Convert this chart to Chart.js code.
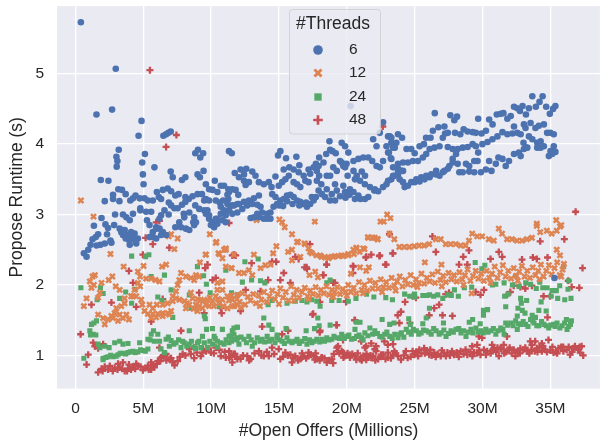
<!DOCTYPE html>
<html><head><meta charset="utf-8">
<style>html,body{margin:0;padding:0;background:#fff}canvas{display:block}</style>
<script src="https://cdn.jsdelivr.net/npm/chart.js@4/dist/chart.umd.min.js"></script>
</head><body>
<canvas id="c" width="606" height="444"></canvas>
<script>
const xTickValues=[0,5,10,15,20,25,30,35];
const yTickValues=[1,2,3,4,5];
const xTitle="#Open Offers (Millions)";
const yTitle="Propose Runtime (s)";
const legendTitle="#Threads";
const threads6=[[0.4,5.73],[2.97,5.07],[1.55,4.42],[2.7,4.49],[4.87,4.33],[4.65,4.12],[6.48,4.12],[6.68,4.14],[6.85,4.16],[7.02,4.18],[3.19,3.92],[3.02,3.82],[3.09,3.76],[3.04,3.68],
[1.87,3.49],[2.43,3.48],[2.16,3.19],[2.77,3.28],[2.77,3.22],[3.24,3.19],[3.16,3.36],[3.43,3.35],[3.7,3.29],[2.92,3.0],[1.92,2.95],[1.36,2.84],[2.21,2.86],[2.4,2.81],[2.85,2.85],[2.33,2.72],[1.67,2.72],[1.5,2.68],[1.26,2.65],[1.11,2.57],[1.55,2.56],[1.84,2.57],[2.16,2.59],[2.58,2.63],[2.65,2.6],[0.94,2.5],[0.62,2.45],[0.82,2.4],
[3.26,2.8],[3.38,2.75],[3.5,2.71],[3.7,2.66],[3.94,2.64],[4.24,2.68],[4.36,2.73],[4.6,2.66],[4.1,2.75],[3.87,2.71],[3.63,2.78],[4.48,2.59],[4.0,2.57],[4.36,2.64],[3.5,3.0],[3.75,2.96],[4.0,2.92],[4.24,3.01],[4.78,3.09],[4.78,3.06],[4.43,3.27],[4.04,3.2],[4.24,3.23],[4.73,3.23],[5.09,3.23],[5.34,3.2],[5.7,3.2],[6.0,3.32],[6.14,3.25],[6.31,3.22],
[5.12,3.86],[4.92,3.74],[5.82,3.67],[4.97,3.57],[5.02,3.43],[5.21,3.04],[5.58,3.04],[5.27,2.92],[5.46,2.85],[5.7,2.75],[5.95,2.82],[6.19,2.94],[6.56,3.06],[6.31,2.99],[6.87,3.0],[5.95,2.8],[6.2,2.8],[6.44,2.75],[6.68,2.71],[6.31,2.71],[5.95,2.66],[5.7,2.68],[5.46,2.68],
[6.44,3.35],[6.8,3.37],[7.05,3.33],[7.36,3.27],[7.6,3.29],[7.02,3.61],[7.17,3.53],[6.88,3.17],[7.05,3.13],[7.29,3.09],[7.53,3.09],[7.85,3.14],[8.1,3.18],[8.1,3.25],[8.35,3.22],[8.63,3.26],[7.85,3.49],[8.1,3.53],[7.98,3.01],[8.02,2.96],[8.39,3.03],[8.75,2.96],[8.68,2.89],[7.65,2.89],[7.36,2.82],[7.78,2.82],[8.14,2.8],[8.39,2.78],[8.75,2.85],[8.88,2.89],
[8.83,3.87],[9.03,3.92],[9.2,3.81],[9.41,3.87],[9.0,3.57],[9.17,3.53],[9.44,3.62],[8.83,3.13],[9.12,3.08],[9.49,3.06],[9.73,3.06],[9.61,3.01],[9.85,2.94],[10.1,2.89],[10.34,2.94],[10.22,2.82],[9.98,2.85],[9.0,3.29],[9.32,3.29],[9.61,3.22],[9.85,3.2],[9.49,3.2],[9.61,3.43],[9.85,3.36],[10.1,3.35],[10.27,3.48],[10.71,3.41],[10.95,3.41],[10.46,3.32],[11.27,3.36],[11.56,3.36],[11.8,3.35],[11.2,3.28],[11.27,3.22],[11.74,3.59],[10.34,3.2],[10.63,3.17],[10.88,3.2],[11.2,3.15],[11.56,3.13],[11.94,3.15],[10.71,3.11],[10.95,3.06],[11.31,3.06],[11.56,3.01],[11.07,2.99],[10.71,3.01],[10.46,2.94],[10.83,2.92],[9.85,2.99],[10.46,2.87],[11.07,2.89],
[11.32,3.9],[11.52,3.87],[12.17,3.64],[12.42,3.57],[12.59,3.65],[13.03,3.61],[13.27,3.55],[12.05,3.53],[12.42,3.48],[12.78,3.46],[12.54,3.42],[12.0,3.28],[11.32,3.32],[13.52,3.46],[13.88,3.43],[14.25,3.46],[14.45,3.39],[14.74,3.54],[14.93,3.84],[15.1,3.9],[15.52,3.8],[16.28,3.82],[16.5,3.7],[15.35,3.64],[15.76,3.67],[16.08,3.64],[16.45,3.6],[15.72,3.55],[15.47,3.5],[15.23,3.46],[14.98,3.41],[16.08,3.46],[16.33,3.43],[16.57,3.39],[16.94,3.48],[17.18,3.46],[16.82,3.55],[17.18,3.64],[17.55,3.67],[17.72,3.72],[17.92,3.69],[17.3,3.58],[17.79,3.62],[17.96,3.55],[17.79,3.48],[18.12,3.43],[17.96,3.81],[18.28,3.74],[18.48,3.86],[18.77,3.92],[18.94,3.9],[19.18,3.87],[18.72,4.04],[19.62,4.02],[19.87,3.97],[20.11,3.88],[19.0,3.67],[19.26,3.62],[18.52,3.55],[18.77,3.55],[19.13,3.43],[20.06,3.55],
[19.5,3.76],[19.74,3.69],[19.98,3.72],[19.62,3.74],[19.87,3.67],[20.49,3.76],[20.85,3.79],[21.21,3.81],[21.58,3.81],[21.87,3.76],[22.19,3.69],[22.43,3.67],[22.67,3.76],[20.49,3.62],[20.73,3.55],[21.1,3.61],[21.34,3.55],[20.6,3.5],[20.97,3.48],[21.33,3.43],[21.7,3.39],[22.02,3.34],[22.19,3.97],[21.94,4.07],[23.1,3.88],[23.28,3.79],[23.28,4.02],[23.53,3.95],[22.92,3.97],[23.17,4.11],[22.43,4.16],[20.28,4.54],[22.67,4.31],
[11.32,3.06],[11.68,3.13],[12.05,3.15],[12.42,3.18],[12.78,3.2],[13.15,3.23],[13.52,3.27],[11.93,3.03],[12.3,3.08],[12.66,3.13],[13.03,3.15],[13.4,3.14],[13.64,3.11],[12.91,2.95],[13.15,2.96],[13.52,2.96],[13.88,2.94],[14.13,2.94],[14.37,2.94],[14.13,3.01],[14.37,3.03],[13.76,3.03],[13.4,3.01],[14.6,3.11],[14.86,3.15],[15.1,3.2],[15.35,3.22],[15.59,3.27],[15.84,3.28],[16.08,3.25],[16.33,3.2],[16.57,3.18],[16.82,3.15],[17.06,3.11],[17.3,3.15],[17.55,3.2],[17.42,3.25],[17.72,3.25],[17.92,3.34],[18.16,3.29],[18.52,3.36],[18.77,3.2],[18.4,3.25],[19.13,3.2],[18.89,3.29],[19.26,3.34],[19.74,3.41],[19.87,3.32],[20.23,3.36],[20.49,3.32],[20.85,3.27],[21.33,3.22],[21.58,3.25],[22.06,3.36],[22.31,3.33],[22.67,3.39],[22.92,3.43],[23.28,3.5],[23.53,3.55],[23.78,3.65],[14.5,3.29],[14.74,3.25],[15.0,3.13],[15.3,3.12],[15.6,3.19],[16.0,3.15],[16.5,3.13],[17.0,3.17],[19.5,3.26],[19.9,3.24],[20.2,3.28],[20.6,3.22],[21.0,3.22],
[23.04,4.11],[23.28,4.09],[23.77,4.14],[24.07,4.09],[23.65,4.02],[23.41,3.95],[23.04,3.88],[23.24,3.8],[24.4,3.93],[24.75,3.93],[25.0,3.87],[25.36,3.97],[25.68,4.0],[25.84,4.09],[26.17,4.09],[26.34,4.19],[26.75,4.24],[27.19,4.25],[26.48,4.44],[27.07,4.09],[27.24,4.15],[27.44,4.16],[27.63,4.41],[28.12,4.39],[27.92,4.34],[27.97,4.16],[28.36,4.14],[28.61,4.21],[28.9,4.18],[29.27,4.17],[29.51,4.16],[29.68,4.36],[29.93,4.15],[30.25,4.19],[30.49,4.35],[30.74,4.28],[31.05,4.42],[31.34,4.43],[31.54,4.44],[31.83,4.36],[32.08,4.4],[32.32,4.53],[32.56,4.51],[32.76,4.47],[32.95,4.54],[33.2,4.42],[33.42,4.51],[33.93,4.53],[33.67,4.68],[34.43,4.68],[34.2,4.6],[34.69,4.53],[34.96,4.43],[35.2,4.5],[35.37,4.54],
[24.14,3.74],[23.77,3.72],[23.41,3.67],[23.77,3.62],[24.14,3.62],[24.5,3.74],[24.87,3.76],[25.24,3.76],[25.6,3.81],[25.85,3.86],[26.1,3.93],[26.46,3.95],[26.83,3.97],[27.44,3.96],[27.8,3.93],[28.17,3.93],[28.54,3.95],[28.9,3.96],[29.27,4.0],[29.51,3.97],[28.05,3.86],[27.8,3.79],[29.68,3.88],[29.99,4.0],[30.37,4.03],[30.73,4.07],[31.1,4.11],[31.47,4.17],[31.83,4.14],[32.2,4.15],[32.56,4.16],[32.81,4.14],[32.32,4.25],[33.05,4.28],[33.17,4.23],[33.54,4.3],[33.9,4.23],[34.15,4.26],[34.52,4.28],[34.76,4.16],[35.0,4.16],[35.25,4.14],[33.42,4.11],[33.67,4.07],[34.03,4.02],[34.28,4.04],[34.52,3.97],[34.03,3.95],[34.28,3.95],[33.02,4.02],[33.2,3.95],
[23.04,3.48],[23.41,3.55],[23.77,3.57],[24.01,3.62],[23.89,3.5],[24.14,3.46],[24.26,3.39],[24.5,3.41],[24.75,3.46],[25.12,3.5],[25.48,3.53],[25.85,3.55],[26.22,3.57],[26.58,3.62],[26.83,3.55],[27.19,3.62],[27.56,3.69],[27.8,3.74],[24.99,3.46],[25.36,3.47],[25.73,3.5],[26.1,3.53],[26.58,3.57],[27.07,3.6],[27.44,3.65],[28.17,3.72],[28.29,3.6],[28.54,3.6],[28.78,3.72],[29.02,3.69],[29.39,3.76],[29.63,3.76],[29.02,3.61],[29.39,3.6],[29.88,3.6],[30.25,3.64],[30.49,3.76],[30.66,3.62],[30.98,3.72],[31.17,3.81],[31.47,3.79],[31.71,3.69],[31.95,3.76],[32.32,3.86],[32.68,3.88],[33.05,3.93],[33.3,3.95],[32.81,3.83],[34.89,3.83],[35.01,3.9],[35.25,3.97],[35.37,3.89],[35.13,3.86],[35.3,2.1]];
const threads12=[[0.4,3.2],[1.33,2.97],[2.58,2.44],[9.9,2.72],[10.35,2.6],[11.08,2.5],[10.6,2.44],[7.05,2.72],[6.87,2.69],[7.53,2.66],[7.29,2.51],[9.6,2.43],[3.55,2.26],[5.02,2.27],[6.38,2.26],[6.68,2.29],[9.61,2.43],[9.17,2.32],[10.54,2.45],[10.95,2.5],[10.39,2.61],[11.08,2.52],[11.68,2.43],[10.83,2.38],[11.08,2.26],[11.5,2.24],
[1.43,2.14],[1.26,2.12],[1.06,2.05],[1.36,2.0],[1.18,1.96],[0.82,1.81],[0.62,1.7],[1.92,2.03],[1.8,1.89],[1.67,1.82],[2.72,2.12],[2.45,2.07],[1.67,1.58],[2.04,1.53],[2.16,1.44],[2.4,1.51],[2.77,1.53],[2.89,1.6],[3.14,1.49],[3.26,1.58],[3.5,1.53],[3.75,1.58],[3.38,1.7],[3.62,1.74],[3.01,1.67],[2.65,1.56],[3.94,1.51],[2.97,1.98],[3.26,1.93],[3.62,1.81],[4.1,1.84],[4.6,2.19],[4.77,2.12],[4.6,2.03],[4.77,1.98],[4.36,1.93],[4.24,1.84],[4.48,1.84],[5.21,2.09],[5.58,2.09],[5.9,2.07],[6.19,2.05],[4.85,1.79],[4.92,1.72],[5.09,1.63],[5.46,1.72],[5.7,1.67],[6.0,1.72],[5.34,1.59],[5.7,1.59],[6.07,1.59],[6.43,1.6],[6.8,1.6],[7.05,1.63],[5.58,1.53],[5.95,1.54],[6.43,1.56],[6.92,1.58],[6.43,1.72],[6.8,1.74],[7.17,1.84],[7.41,1.91],[7.53,2.0],[7.66,2.07],[7.17,1.77],[7.66,1.79],[7.41,1.81],[7.78,2.17],[8.14,2.12],[8.51,2.1],[8.88,2.14],[8.75,2.07],[9.12,2.12],[8.03,1.77],[8.14,1.67],[8.39,1.72],[8.51,1.89],[8.63,1.81],[8.88,1.72],[9.12,1.7],[9.24,1.79],[9.36,1.67],[9.73,1.79],[9.85,1.7],[10.1,1.77],[10.34,1.84],[10.59,1.74],[10.83,1.79],[11.2,1.84],[11.56,1.79],[11.93,1.86],[10.46,2.03],[10.83,2.05],[10.83,1.93],[10.46,1.93],[11.2,1.67],[11.56,1.7],[11.93,1.72],[9.4,1.77],[8.99,1.63],[9.61,1.72],[8.2,1.74],[8.7,1.66],[9.0,1.8],[9.9,1.82],[10.2,1.7],[10.5,1.8],[10.9,1.7],
[14.81,2.55],[14.57,2.45],[13.15,2.43],[11.51,2.24],[15.96,2.5],[15.67,2.47],[16.4,2.61],[16.88,2.59],[17.18,2.52],[17.42,2.45],[15.96,2.35],[16.57,2.4],[18.03,2.42],[18.4,2.39],[18.65,2.38],[19.0,2.4],[19.38,2.41],[19.74,2.41],[20.11,2.42],[20.48,2.5],[20.72,2.52],[21.21,2.52],[13.64,2.24],[14.0,2.28],[14.38,2.29],[12.05,2.17],[12.42,2.17],[12.78,2.21],[13.03,2.14],[17.25,2.14],[17.67,2.19],[17.87,2.11],[20.3,2.16],[20.97,2.25],[21.62,2.25],[21.43,2.2],[25.75,2.32],[26.97,2.29],
[16.91,2.58],[17.28,2.47],[17.77,2.42],[18.13,2.4],[18.62,2.4],[19.11,2.41],[19.6,2.42],[20.1,2.44],[20.52,2.44],[20.7,2.53],[20.94,2.47],[21.3,2.51],[21.55,2.68],[21.92,2.67],[22.28,2.65],[23.14,2.73],[23.5,2.65],[23.87,2.54],[24.24,2.54],[24.6,2.54],[24.97,2.55],[25.33,2.56],[25.7,2.56],[26.07,2.58],[26.56,2.65],[26.92,2.65],[27.29,2.58],[27.65,2.58],[28.02,2.58],[28.39,2.56],[28.75,2.56],[29.0,2.63],[29.24,2.73],[29.61,2.69],[29.97,2.69],[30.46,2.65],[30.83,2.63],[31.2,2.8],[31.44,2.73],[31.81,2.65],[32.17,2.65],[32.54,2.63],[32.91,2.63],[33.27,2.65],[33.64,2.67],[34.0,2.84],[34.25,2.75],[34.74,2.77],[35.1,2.73],[35.47,2.77],[35.71,2.83],[35.47,2.5],[35.71,2.42],[22.97,3.0],[23.21,2.95],[22.48,2.9],[22.72,2.9],[17.64,2.9],[34.0,2.87],[35.43,2.92],[35.8,2.85],[15.03,2.93],[15.23,2.89],[13.35,2.92],[15.42,2.82],[15.96,2.72],[16.33,2.61],[21.58,2.67],[22.06,2.67],[22.26,2.65],
[11.3,1.78],[11.5,1.85],[11.7,1.7],[11.9,1.8],[12.1,1.76],[12.3,1.88],[12.5,1.72],[12.7,1.83],[12.9,1.78],[13.1,1.87],[13.3,1.74],[13.5,1.85],[13.7,1.79],[13.9,1.9],[14.1,1.76],[14.3,1.84],[14.5,1.92],[14.7,1.8],[14.9,1.87],[15.1,1.95],[15.3,1.82],[15.5,1.9],[15.7,1.78],[15.9,1.98],[16.1,1.86],[16.3,1.93],[16.5,1.82],[16.7,1.9],[16.9,1.96],[17.1,1.84],[17.3,1.92],[17.5,1.87],[17.7,1.97],[17.9,1.85],[18.1,1.93],[18.3,1.88],[18.5,1.98],[18.7,1.86],[18.9,1.93],[19.1,1.9],[19.3,1.97],[19.5,1.87],[19.7,1.94],[19.9,1.9],[20.1,2.0],[20.3,1.9],[20.5,1.96],[20.7,1.88],[20.9,2.04],[21.1,1.93],[21.3,2.0],[21.5,1.92],[21.7,2.06],[21.9,1.95],[22.1,2.03],[22.3,1.95],[22.5,2.08],[22.7,1.97],[22.9,2.04],[23.1,1.96],[23.3,2.1],[23.5,1.99],[23.7,2.05],[23.9,2.12],[24.1,1.98],[24.3,2.07],[24.5,2.01],[24.7,2.14],[24.9,2.0],[25.1,2.08],[25.3,2.03],[25.5,2.16],[25.7,2.02],[25.9,2.1],[26.1,2.05],[26.3,2.15],[26.5,2.03],[26.7,2.19],[26.9,2.07],[27.1,2.13],[27.3,2.04],[27.5,2.17],[27.7,2.08],[27.9,2.14],[28.1,2.05],[28.3,2.18],[28.5,2.08],[28.7,2.14],[28.9,2.22],[29.1,2.06],[29.3,2.13],[29.5,2.2],[29.7,2.09],[29.9,2.16],[30.1,2.06],[30.3,2.2],[30.5,2.1],[30.7,2.16],[30.9,2.26],[31.1,2.1],[31.3,2.18],[31.5,2.28],[31.7,2.12],[31.9,2.2],[32.1,2.09],[32.3,2.24],[32.5,2.13],[32.7,2.19],[32.9,2.27],[33.1,2.12],[33.3,2.2],[33.5,2.1],[33.7,2.25],[33.9,2.14],[34.1,2.2],[34.3,2.29],[34.5,2.12],[34.7,2.2],[34.9,2.28],[35.1,2.15],[35.3,2.24],[35.5,2.32],[35.7,2.14],[35.9,2.22],[36.0,2.3],
[16.1,1.78],[17.2,1.8],[19.0,1.83],[20.0,1.85],[21.2,1.88],[22.6,1.9],[23.6,1.92],[25.2,1.97],[27.0,1.98],[28.6,2.0],[30.6,2.03],[29.2,1.88],[32.6,2.06],[34.2,2.08],[35.8,2.12],[12.2,1.68],[13.6,1.7],[15.0,1.73]];
const threads24=[[0.4,1.96],[0.62,0.96],[1.36,1.46],[1.18,1.44],[1.55,1.49],[1.06,1.35],[1.3,1.3],[1.11,1.29],[1.5,1.29],[1.84,1.96],[1.6,1.79],[2.04,1.88],[4.14,2.41],[3.7,1.9],[3.26,1.81],[4.14,1.74],[5.17,2.4],[5.41,2.43],[6.56,2.14],[5.58,2.12],[4.4,1.94],[6.07,1.83],[6.38,1.78],[7.05,1.93],[7.17,1.54],[8.99,2.26],[9.44,2.13],[11.08,2.21],[9.65,2.01],[9.93,1.89],[9.5,1.56],[9.57,1.52],[8.39,1.86],[8.51,1.67],[10.59,1.7],[11.5,1.89],[11.93,1.86],
[1.8,1.11],[1.67,1.16],[2.04,0.94],[2.16,1.13],[2.48,1.11],[2.89,1.18],[3.26,1.2],[3.5,1.16],[3.87,1.17],[4.73,1.18],[2.04,0.96],[2.4,0.98],[2.77,0.98],[3.14,1.01],[3.5,1.03],[3.87,1.04],[4.24,1.06],[4.6,1.05],[4.97,1.07],[5.34,1.09],[5.34,1.23],[5.58,1.3],[5.75,1.35],[6.07,1.3],[5.82,1.2],[6.31,1.09],[6.56,1.04],[6.68,1.23],[7.05,1.21],[6.92,1.13],[7.41,1.18],[7.78,1.11],[8.02,1.18],[8.39,1.35],[8.39,1.16],[8.75,1.12],[8.99,1.18],[9.36,1.27],[9.66,1.37],[10.1,1.38],[10.22,1.27],[10.46,1.2],[10.83,1.37],[11.56,1.35],[11.93,1.4],[10.95,1.16],[11.31,1.18],[11.68,1.23],[11.93,1.25],[9.24,1.11],[9.73,1.11],[10.1,1.16],[10.46,1.12],[2.25,0.97],[2.6,1.0],[3.0,0.99],[3.3,1.03],[3.7,1.02],[4.05,1.05],[4.4,1.04],[4.8,1.08],[5.15,1.06],[5.5,1.22],[6.2,1.2],[6.85,1.26],[7.25,1.16],[7.6,1.22],[7.9,1.2],[8.2,1.13],[8.55,1.2],[8.85,1.1],[9.1,1.2],[9.5,1.18],[9.9,1.2],[10.3,1.24],[10.7,1.18],[11.1,1.22],[11.45,1.28],
[12.49,2.33],[13.47,2.37],[12.3,2.04],[13.64,2.06],[13.96,2.03],[12.98,2.07],[18.52,2.03],[18.77,2.07],[14.2,1.72],[14.49,1.78],[15.59,1.74],[16.2,1.77],[16.69,1.78],[17.06,1.76],[17.42,1.79],[17.79,1.77],[18.03,1.7],[18.89,1.78],[19.43,1.78],[20.11,1.77],[20.67,1.81],[21.45,1.87],[21.99,1.83],[22.87,1.82],[23.36,1.79],[13.88,1.53],[14.25,1.43],[14.49,1.37],[11.68,1.39],[11.93,1.4],[14.86,1.29],[15.52,1.38],[17.0,1.35],[17.62,1.38],[17.96,1.42],[17.86,1.53],[18.77,1.43],[20.6,1.37],[20.72,1.47],[20.97,1.47],[22.6,1.51],[23.16,1.44],[23.48,1.46],
[11.32,1.27],[11.68,1.3],[12.05,1.16],[12.42,1.23],[12.78,1.27],[13.03,1.13],[13.4,1.25],[13.76,1.23],[14.13,1.27],[14.49,1.23],[14.86,1.25],[15.23,1.2],[15.59,1.25],[15.96,1.18],[16.33,1.23],[16.69,1.2],[17.06,1.16],[17.42,1.18],[17.79,1.23],[18.16,1.23],[18.52,1.25],[18.89,1.23],[19.26,1.25],[19.62,1.3],[19.99,1.27],[20.35,1.23],[20.72,1.27],[21.09,1.25],[21.33,1.32],[21.7,1.39],[22.06,1.35],[22.43,1.27],[22.79,1.3],[23.16,1.27],[23.53,1.3],[11.5,1.2],[11.9,1.22],[12.2,1.26],[12.6,1.18],[12.95,1.22],[13.2,1.18],[13.6,1.2],[13.95,1.19],[14.3,1.2],[14.7,1.18],[15.05,1.22],[15.4,1.17],[15.75,1.2],[16.15,1.2],[16.5,1.17],[16.9,1.24],[17.25,1.22],[17.6,1.2],[18.0,1.19],[18.35,1.2],[18.7,1.22],[19.05,1.27],[19.45,1.24],[19.8,1.24],[20.15,1.29],[20.55,1.24],[20.9,1.29],[21.2,1.22],[21.55,1.28],[21.9,1.3],[22.25,1.31],[22.6,1.26],[22.95,1.33],[23.35,1.24],
[23.77,1.25],[24.02,1.32],[24.38,1.37],[24.75,1.3],[25.12,1.35],[25.48,1.32],[25.85,1.35],[26.22,1.3],[26.58,1.35],[26.95,1.32],[27.31,1.27],[27.68,1.35],[28.05,1.37],[28.41,1.32],[28.78,1.27],[29.15,1.37],[29.51,1.39],[29.88,1.35],[30.24,1.37],[30.61,1.35],[30.98,1.3],[31.34,1.39],[31.59,1.3],[31.71,1.46],[32.08,1.46],[32.44,1.49],[32.56,1.37],[32.81,1.44],[33.18,1.44],[33.54,1.51],[33.79,1.46],[34.15,1.42],[34.52,1.44],[34.88,1.39],[35.25,1.44],[35.49,1.46],[35.86,1.42],[36.23,1.37],[36.48,1.44],[36.18,1.51],[36.55,1.49],[23.9,1.3],[24.2,1.26],[24.55,1.33],[24.9,1.37],[25.3,1.3],[25.65,1.36],[26.05,1.33],[26.4,1.38],[26.8,1.3],[27.15,1.36],[27.5,1.31],[27.85,1.33],[28.25,1.38],[28.6,1.35],[28.95,1.33],[29.3,1.32],[29.7,1.33],[30.05,1.32],[30.4,1.33],[30.8,1.38],[31.15,1.35],[31.5,1.37],[31.85,1.43],[32.25,1.42],[32.65,1.45],[33.0,1.48],[33.35,1.41],[33.7,1.49],[34.0,1.42],[34.35,1.48],[34.7,1.42],[35.05,1.43],[35.35,1.41],[35.7,1.39],[36.05,1.46],[36.35,1.41],
[24.26,1.87],[24.63,1.84],[24.99,1.87],[25.6,1.85],[26.09,1.86],[26.7,1.86],[27.07,1.81],[27.44,1.86],[27.93,1.93],[28.22,1.84],[28.66,1.96],[29.2,1.97],[29.46,2.32],[30.17,2.28],[29.95,2.23],[30.73,2.0],[30.98,2.01],[31.59,2.03],[32.2,2.0],[32.44,2.13],[32.69,1.98],[33.18,2.03],[33.54,2.01],[33.96,1.95],[34.22,2.04],[34.44,1.96],[34.76,1.96],[35.13,1.92],[35.44,1.92],[35.69,1.99],[35.98,2.26],[36.35,2.06],[36.3,1.94],[36.52,1.81],[36.06,1.79],[35.54,1.81],[35.05,1.84],[34.69,1.63],[34.15,1.64],[34.32,1.76],[33.25,1.78],[32.81,1.81],[32.86,1.74],[32.61,1.67],[32.93,1.64],[33.13,1.6],[33.66,1.57],[33.9,1.54],[32.56,1.56],[31.71,1.69],[30.37,1.65],[30.07,1.64],[30.07,1.57],[29.27,1.51],[29.02,1.47],[29.83,1.45],[27.12,1.46],[26.09,1.67],[25.85,1.53],[25.6,1.45],[24.56,1.52],[24.68,1.44],[31.88,1.87],[31.63,1.84],[25.0,1.83],[26.4,1.84],[27.7,1.85],[25.9,1.85]];
const threads48=[[5.49,5.05],[7.44,4.13],[6.68,3.96],[11.32,2.88],[5.95,2.89],[6.19,2.91],[22.65,4.25],[36.86,3.04],[5.7,2.58],[6.92,2.53],[5.17,2.67],[4.97,2.43],[3.94,2.2],[4.24,2.03],[4.48,1.69],[2.65,1.75],[1.18,1.72],[5.58,1.48],[0.38,1.3],[7.78,1.35],[9.73,2.29],[9.56,2.24],[9.12,1.89],[10.1,2.07],[10.34,2.1],[11.68,2.43],[9.49,1.6],[10.78,1.6],[10.71,1.67],[9.0,1.7],[6.43,1.8],[1.31,1.18],[1.43,1.13],[1.67,1.1],[2.04,1.16],[0.94,1.01],[0.82,0.87],
[1.67,0.76],[1.92,0.81],[2.16,0.84],[2.53,0.85],[2.89,0.82],[3.26,0.83],[3.63,0.78],[3.87,0.81],[4.24,0.84],[4.6,0.85],[4.97,0.79],[5.34,0.85],[5.58,0.9],[5.82,0.83],[6.07,0.92],[6.31,0.97],[6.56,0.99],[6.92,0.95],[7.17,0.9],[7.53,0.92],[5.58,0.8],[3.14,0.88],[3.5,0.9],[3.94,0.87],[4.48,0.88],[6.19,1.11],[6.43,0.99],[6.68,1.02],[7.9,1.02],[8.39,1.09],[8.75,0.96],[9.24,0.99],[9.61,1.06],[9.98,1.04],[10.34,1.11],[11.08,0.97],[11.32,1.06],[11.56,0.9],[11.93,0.95],[10.71,0.99],[9.36,1.04],[8.75,1.11],[2.0,0.78],[2.4,0.8],[2.75,0.78],[3.1,0.8],[3.45,0.81],[3.8,0.78],[4.1,0.8],[4.4,0.81],[4.8,0.84],[5.15,0.82],[5.4,0.8],[5.7,0.86],[6.0,0.88],[6.25,0.92],[6.7,0.93],[7.05,0.96],[7.3,0.86],[7.7,0.98],[8.1,1.0],[8.5,1.02],[8.95,1.04],[9.4,1.09],[9.8,1.1],[10.2,1.03],[10.6,1.08],[11.0,1.05],[11.4,0.98],[11.75,1.02],
[11.56,2.42],[11.81,2.42],[12.98,2.31],[14.49,2.33],[14.79,2.33],[15.35,2.17],[16.2,2.4],[16.45,2.37],[16.89,2.25],[17.06,2.23],[18.52,2.29],[18.28,2.14],[20.48,2.26],[22.43,2.42],[22.84,2.29],[21.4,2.39],[23.4,2.45],[14.2,2.07],[15.84,2.03],[15.1,2.07],[19.13,2.03],[12.17,1.63],[12.54,1.93],[13.64,1.91],[17.47,1.58],[18.03,1.35],[19.26,1.43],[20.6,1.5],[19.94,1.76],[13.76,1.41],[15.67,1.35],[15.23,1.3],
[11.32,0.97],[11.68,1.02],[12.17,0.95],[12.66,0.99],[12.91,0.95],[13.52,1.06],[13.88,0.99],[14.25,0.99],[14.49,1.11],[15.1,0.95],[15.96,0.9],[14.98,1.09],[15.47,1.04],[15.84,1.01],[16.2,0.99],[16.57,0.95],[16.82,0.99],[17.18,1.04],[17.55,0.99],[17.79,0.95],[18.16,0.97],[18.52,0.9],[18.89,0.95],[19.26,1.11],[19.62,1.06],[19.87,0.99],[20.23,0.97],[20.6,0.99],[20.97,0.95],[21.21,0.99],[21.58,0.97],[21.94,0.99],[22.31,0.95],[22.67,1.01],[23.04,0.97],[23.4,1.01],[23.77,0.99],[21.33,1.11],[23.4,1.16],[22.06,1.09],
[11.5,1.0],[11.85,0.98],[12.35,1.0],[12.8,0.93],[13.2,1.03],[13.7,1.0],[14.1,1.05],[14.65,1.02],[15.3,0.98],[15.65,1.0],[16.05,0.96],[16.4,0.93],[16.7,1.03],[17.0,0.96],[17.35,1.01],[17.7,1.03],[18.0,0.93],[18.35,0.96],[18.7,0.93],[19.05,1.02],[19.45,1.03],[19.75,0.97],[20.05,1.03],[20.4,1.02],[20.8,1.03],[21.1,0.93],[21.45,1.02],[21.75,1.0],[22.1,0.93],[22.5,0.98],[22.85,0.95],[23.25,0.96],[23.6,1.03],
[16.67,0.965],[17.16,0.99],[17.64,0.94],[18.13,0.965],[18.99,0.89],[19.35,1.06],[19.72,1.04],[20.21,1.01],[20.7,0.94],[21.06,0.965],[21.43,0.94],[21.8,0.965],[22.16,1.06],[22.53,1.01],[23.02,1.04],[23.5,1.06],[23.99,0.94],[24.48,0.965],[24.97,1.01],[25.34,1.08],[25.7,1.1],[26.07,1.01],[26.44,1.04],[26.92,0.99],[27.41,1.04],[27.9,1.01],[28.39,1.06],[28.88,1.01],[29.37,1.04],[29.85,1.01],[30.34,1.06],[30.83,1.1],[31.2,0.99],[31.56,1.15],[31.93,1.08],[32.42,0.99],[32.79,1.1],[33.27,1.06],[33.64,1.15],[34.0,1.1],[34.37,1.06],[34.86,1.22],[35.23,1.04],[35.6,1.1],[35.96,1.06],[36.45,1.01],[36.81,1.13],[37.3,1.13],[37.42,1.0],
[24.2,1.0],[24.7,0.98],[25.1,1.05],[25.5,1.03],[25.9,1.07],[26.25,1.0],[26.7,1.02],[27.15,1.03],[27.6,1.0],[28.1,1.04],[28.6,1.02],[29.1,1.05],[29.6,1.03],[30.1,1.08],[30.6,1.03],[31.0,1.05],[31.4,1.09],[31.75,1.05],[32.15,1.03],[32.6,1.05],[33.0,1.08],[33.45,1.03],[33.85,1.06],[34.2,1.12],[34.6,1.08],[35.0,1.07],[35.4,1.05],[35.8,1.12],[36.2,1.08],[36.6,1.05],[37.05,1.08],[37.2,1.04],[24.35,1.06],[24.85,1.06],[25.25,0.99],[25.75,1.03],[26.15,1.08],[26.55,0.98],[27.0,1.07],[27.3,0.99],[27.75,1.06],[28.25,0.98],[28.75,1.08],[29.25,0.99],[29.75,1.07],[30.25,1.01],[30.75,1.08],[31.1,1.11],[31.6,1.03],[32.0,1.11],[32.3,1.08],[32.75,1.03],[33.15,1.11],[33.6,1.08],[34.05,1.05],[34.45,1.13],[34.75,1.05],[35.15,1.12],[35.5,1.03],[35.95,1.12],[36.35,1.12],[36.7,1.1],[37.15,1.12],
[23.14,2.72],[26.31,2.69],[36.03,2.65],[34.25,2.62],[26.56,2.47],[22.4,2.41],[23.38,2.45],[29.0,2.49],[28.58,2.4],[28.27,2.29],[28.88,2.29],[30.59,2.37],[31.2,2.47],[31.45,2.4],[32.91,2.36],[33.71,2.39],[34.0,2.37],[34.79,2.39],[37.37,2.24],[36.32,2.06],[37.13,1.96],[36.57,1.97],[22.9,2.29],[21.43,2.4],[21.8,2.43],[20.45,2.27],[20.45,2.17],[18.5,2.29],[18.25,2.14],[18.99,2.03],[17.03,2.25],[17.28,2.58],[18.01,1.76],[19.96,1.77],[24.29,1.76],[25.09,1.82],[24.85,1.84],[27.29,1.87],[27.53,1.89],[29.49,1.9],[29.85,1.86],[30.1,1.93],[31.81,1.86],[32.05,1.9],[32.3,1.99],[32.79,1.97],[33.15,1.95],[33.64,1.99],[34.5,1.84],[34.98,1.84],[17.52,1.59],[18.0,1.33],[19.23,1.43],[20.57,1.5],[23.75,1.57],[23.99,1.62],[23.87,1.46],[24.65,1.46],[26.07,1.57],[26.44,1.67],[26.8,1.72],[27.05,1.57],[27.78,1.56],[29.97,1.25],[29.73,1.27],[31.8,1.27],[34.79,1.54],[21.8,1.17],[21.43,1.13],[21.06,1.2],[19.72,1.22],[19.35,1.13],[22.16,1.13],[22.77,1.2],[23.02,1.15],[29.24,1.13],[29.61,1.15],[33.52,1.2],[33.88,1.2],[34.37,1.17],[30.71,1.15],[31.32,1.1]];

const series=[
 {label:"6",data:threads6,color:"#4C72B0",style:"circle",r:3.3,bw:0,lr:4.8,lbw:0},
 {label:"12",data:threads12,color:"#DD8452",style:"crossRot",r:3.6,bw:2.5,lr:5,lbw:3},
 {label:"24",data:threads24,color:"#55A868",style:"rect",r:3.6,bw:0,lr:5.2,lbw:0},
 {label:"48",data:threads48,color:"#C44E52",style:"cross",r:3.5,bw:2.3,lr:4.8,lbw:2.6}
];
const INK="#262626", FONT="Liberation Sans, Arial, sans-serif";
const bgPlugin={id:"bg",beforeDraw(c){const a=c.chartArea,x=c.ctx;x.save();x.fillStyle="#EAEAF2";x.fillRect(a.left,a.top,a.right-a.left,a.bottom-a.top);x.restore();}};
const legendPlugin={id:"boxLegend",afterDatasetsDraw(c){
  const x=c.ctx; x.save();
  x.beginPath(); x.roundRect(289.5,9.5,91,124.5,3);
  x.fillStyle="rgba(234,234,242,0.8)"; x.fill();
  x.strokeStyle="rgba(204,204,204,0.8)"; x.lineWidth=1; x.stroke();
  x.fillStyle=INK; x.textBaseline="middle"; x.textAlign="center";
  x.font="17.5px "+FONT; x.fillText(legendTitle,333,24);
  const ys=[50,73,97,120];
  series.forEach((s,i)=>{
    x.fillStyle=s.color; x.strokeStyle=s.color; x.lineWidth=s.lbw;
    Chart.helpers.drawPoint(x,{pointStyle:s.style,radius:s.lr,borderWidth:s.lbw,rotation:0},318,ys[i]);
    x.fillStyle=INK; x.textAlign="left"; x.font="15.5px "+FONT;
    x.fillText(s.label,349,ys[i]);
  });
  x.restore();
}};
new Chart(document.getElementById("c"),{
 type:"scatter",
 data:{datasets:series.map(s=>({label:s.label,data:s.data.map(p=>({x:p[0],y:p[1]})),backgroundColor:s.color,borderColor:s.color,borderWidth:s.bw,pointStyle:s.style,pointRadius:s.r,pointHoverRadius:s.r}))},
 options:{responsive:false,animation:false,devicePixelRatio:1,
  layout:{padding:{top:2,right:3,left:0,bottom:0}},
  plugins:{legend:{display:false},tooltip:{enabled:false}},
  scales:{
   x:{type:"linear",min:-1.36,max:38.65,
    afterBuildTicks(s){s.ticks=xTickValues.map(v=>({value:v}));},
    afterFit(s){s.height=55.5;s.paddingLeft=0;s.paddingRight=0;},
    grid:{color:"#fff",lineWidth:1.3,drawTicks:false},border:{display:false},
    ticks:{color:INK,font:{family:FONT,size:15.5},padding:11,maxRotation:0,callback:v=>v===0?"0":v+"M"},
    title:{display:true,text:xTitle,color:INK,font:{family:FONT,size:17.5},padding:{top:0,bottom:2}}},
   y:{type:"linear",min:0.53,max:5.96,
    afterBuildTicks(s){s.ticks=yTickValues.map(v=>({value:v}));},
    afterFit(s){s.width=57;s.paddingTop=0;s.paddingBottom=0;},
    grid:{color:"#fff",lineWidth:1.3,drawTicks:false},border:{display:false},
    ticks:{color:INK,font:{family:FONT,size:15.5},padding:13,callback:v=>String(v)},
    title:{display:true,text:yTitle,color:INK,font:{family:FONT,size:17.5},padding:{top:7,bottom:0}}}
  }},
 plugins:[bgPlugin,legendPlugin]
});
</script>
</body></html>
